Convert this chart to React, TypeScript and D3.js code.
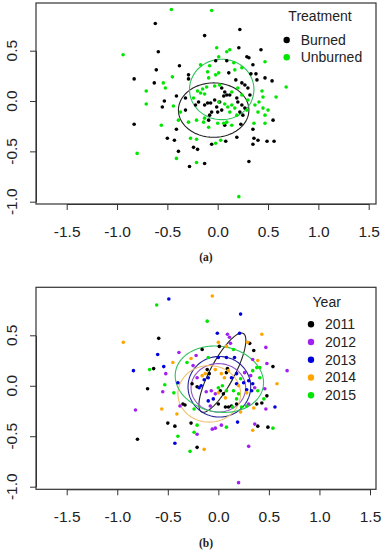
import React, { useEffect, useRef } from "react";
import * as d3 from "d3";

type Pt = [number, number];

// ---- panel (a): scores by treatment ----
const burned: Pt[] = [
  [-0.62, 0.77], [0.22, 0.71], [-0.13, 0.65], [-0.59, 0.49], [0.21, 0.53], [0.43, 0.51], [0.29, 0.44],
  [0.31, 0.43], [-0.61, 0.31], [-0.38, 0.35], [-0.02, 0.4], [0.09, 0.4], [0.35, 0.36],
  [-0.83, 0.22], [-0.63, 0.18], [-0.53, 0.0], [-0.55, -0.06], [-0.83, -0.23], [0.55, -0.19], [0.35, -0.28],
  [-0.29, 0.26], [-0.29, 0.22], [0.11, 0.28], [0.18, 0.21], [0.24, 0.18], [0.27, 0.16], [0.3, 0.13],
  [0.32, 0.06], [0.33, 0.27], [0.38, 0.27], [0.39, 0.21], [0.47, 0.23], [0.54, 0.2],
  [-0.41, 0.05], [-0.32, 0.03], [-0.32, -0.09], [-0.41, -0.28], [-0.22, -0.04], [-0.19, -0.01],
  [-0.13, -0.04], [-0.1, -0.02], [-0.07, -0.02], [-0.03, 0.01], [0.04, 0.13], [0.07, 0.09], [0.09, 0.06],
  [0.06, 0.05], [0.12, 0.06], [0.02, -0.01], [-0.01, -0.06], [0.0, -0.11], [0.04, -0.09], [-0.06, -0.11],
  [-0.08, -0.14], [-0.09, -0.19], [0.19, 0.03], [0.2, -0.01], [0.24, -0.04], [0.27, -0.07], [0.25, -0.14],
  [0.22, -0.11], [0.07, -0.24], [0.23, -0.23],
  [-0.5, -0.37], [-0.43, -0.39], [-0.39, -0.5], [-0.24, -0.46], [-0.2, -0.48], [-0.28, -0.65], [-0.13, -0.62],
  [-0.06, -0.43], [0.08, -0.4], [0.19, -0.36], [0.36, -0.37], [0.4, -0.39], [0.35, -0.43], [0.49, -0.4],
  [0.56, -0.4], [0.31, -0.6],
];

const unburned: Pt[] = [
  [-0.46, 0.91], [-0.06, 0.9], [-0.94, 0.46], [-0.01, 0.53], [0.12, 0.51], [0.09, 0.49], [0.47, 0.39],
  [-0.17, 0.36], [0.01, 0.44], [0.16, 0.38], [0.24, 0.33], [-0.08, 0.35],
  [-0.54, 0.18], [-0.52, 0.13], [-0.71, 0.1], [-0.71, -0.03], [-0.56, -0.24], [-0.45, 0.24],
  [0.68, 0.14], [0.58, 0.04], [0.5, -0.09], [0.47, -0.22],
  [-0.1, 0.29], [-0.09, 0.23], [-0.02, 0.26], [0.01, 0.28], [0.17, 0.31], [0.44, 0.1], [0.45, 0.04],
  [0.41, -0.01], [0.37, -0.04], [0.45, -0.07], [0.4, -0.11], [0.47, -0.14], [0.36, -0.22],
  [-0.44, -0.05], [-0.39, -0.19], [-0.37, -0.11], [-0.24, 0.03], [-0.2, 0.1], [-0.17, 0.08], [-0.15, 0.12],
  [-0.11, 0.14], [-0.13, 0.07], [-0.03, 0.15], [0.02, 0.16], [0.01, -0.01], [0.07, -0.03], [0.1, -0.06],
  [0.14, -0.04], [0.17, -0.07], [0.12, -0.11], [0.19, -0.14], [0.29, -0.09], [0.3, 0.01], [0.2, 0.13],
  [0.14, 0.09], [0.24, 0.06],
  [-0.29, -0.21], [-0.21, -0.19], [-0.14, -0.21], [-0.09, -0.26], [0.0, -0.22], [0.06, -0.22], [0.09, -0.21],
  [0.14, -0.24], [-0.13, -0.17],
  [-0.27, -0.37], [-0.21, -0.38], [-0.8, -0.52], [-0.41, -0.57], [-0.21, -0.61], [-0.02, -0.42],
  [0.03, -0.39], [0.21, -0.95],
];

// ---- panel (b): scores by year ----
const year2011: Pt[] = [
  [-0.59, 0.47], [0.31, 0.42], [-0.16, 0.36], [0.01, 0.39], [0.35, 0.35], [-0.64, 0.17], [-0.7, -0.03],
  [0.54, 0.19], [0.48, -0.1], [-0.11, 0.16], [-0.09, 0.12], [0.08, 0.13], [0.09, 0.17], [-0.26, 0.02],
  [-0.21, -0.01], [0.02, -0.05], [0.05, -0.08], [0.18, -0.18], [0.13, -0.2], [0.0, -0.18], [0.07, -0.21],
  [0.1, -0.21], [0.38, -0.18], [0.43, -0.17], [-0.35, -0.18], [-0.33, -0.19], [-0.5, -0.37], [-0.43, -0.4],
  [-0.27, -0.37], [-0.8, -0.53], [-0.21, -0.61], [0.39, -0.4], [0.49, -0.41],
];
const year2012: Pt[] = [
  [0.09, 0.51], [0.11, 0.48], [0.47, 0.38], [-0.39, 0.33], [0.12, 0.42], [-0.52, 0.12], [-0.22, 0.3],
  [-0.55, -0.06], [0.48, 0.22], [0.68, 0.15], [0.34, 0.26], [-0.25, 0.2], [-0.21, 0.08], [0.26, 0.13],
  [0.32, 0.1], [0.36, -0.02], [0.46, -0.03], [-0.12, -0.06], [-0.07, -0.05], [-0.03, -0.08], [-0.08, -0.2],
  [0.3, -0.18], [0.47, -0.23], [-0.82, -0.24], [-0.38, -0.2], [-0.21, -0.48], [-0.06, -0.43], [-0.03, -0.42],
  [0.03, -0.39], [0.36, -0.38], [0.3, -0.6], [0.2, -0.96],
];
const year2013: Pt[] = [
  [-0.49, 0.86], [0.22, 0.71], [-0.01, 0.52], [0.21, 0.52], [-0.6, 0.31], [-0.54, 0.19], [-0.84, 0.15],
  [-0.4, 0.03], [0.0, 0.28], [0.08, 0.28], [0.16, 0.28], [-0.14, 0.06], [-0.1, 0.08], [0.13, 0.08],
  [0.18, 0.12], [0.3, 0.05], [0.34, 0.02], [0.18, 0.02], [0.25, 0.03], [0.28, -0.04], [0.33, -0.05],
  [-0.19, -0.02], [-0.17, 0.0], [-0.1, -0.15], [-0.05, -0.13], [0.56, -0.21], [-0.43, -0.57], [0.19, -0.36],
];
const year2014: Pt[] = [
  [-0.06, 0.89], [-0.94, 0.43], [0.43, 0.51], [0.29, 0.43], [0.0, 0.43], [0.08, 0.39], [-0.45, 0.23],
  [-0.27, 0.27], [0.39, 0.25], [0.58, 0.02], [-0.16, 0.1], [-0.13, 0.12], [-0.03, 0.16], [0.03, 0.12],
  [0.06, 0.08], [0.1, 0.15], [0.0, -0.07], [0.07, -0.12], [0.2, 0.0], [0.28, -0.07], [0.35, -0.22],
  [0.22, -0.26], [-0.56, -0.23], [-0.41, -0.28], [-0.14, -0.63], [0.34, -0.44],
];
const year2015: Pt[] = [
  [-0.61, 0.8], [-0.11, 0.64], [0.15, 0.36], [-0.68, 0.16], [-0.31, 0.23], [-0.53, 0.01], [-0.44, -0.07],
  [0.38, 0.18], [0.41, 0.18], [0.34, 0.15], [0.45, -0.13], [-0.1, 0.28], [0.22, 0.07], [0.41, 0.08],
  [0.39, -0.05], [0.0, -0.02], [0.04, 0.0], [0.08, -0.05], [0.15, -0.05], [0.2, -0.08], [0.18, -0.13],
  [0.14, -0.21], [0.23, -0.21], [0.28, -0.2], [-0.24, -0.23], [-0.21, -0.39], [-0.4, -0.5], [-0.24, -0.46],
  [-0.28, -0.65], [0.08, -0.41], [0.54, -0.42],
];

const xTicks = [-1.5, -1.0, -0.5, 0.0, 0.5, 1.0, 1.5];
const yTicks = [-1.0, -0.5, 0.0, 0.5];

const treatments = ["Burned", "Unburned"];
const years = ["2011", "2012", "2013", "2014", "2015"];

// ellipses: centre, semi axes, rotation (deg), all in score units
const treatmentEllipses = [
  { cx: -0.04, cy: -0.09, rx: 0.35, ry: 0.27, angle: 0 },
  { cx: 0.04, cy: 0.115, rx: 0.32, ry: 0.3, angle: 0 },
];
const yearEllipses = [
  { cx: 0.04, cy: 0.13, rx: 0.44, ry: 0.12, angle: 62 },
  { cx: 0.0, cy: -0.02, rx: 0.27, ry: 0.24, angle: 0 },
  { cx: 0.01, cy: -0.01, rx: 0.31, ry: 0.3, angle: 0 },
  { cx: -0.09, cy: -0.08, rx: 0.31, ry: 0.28, angle: 0 },
  { cx: 0.01, cy: 0.065, rx: 0.44, ry: 0.325, angle: -10 },
];

const FONT = "'Liberation Sans', Arial, sans-serif";

const drawPanel = (svg, cfg) => {
  const { top, bottom, xRange, yRange, groups, ellipses, legend, caption } = cfg;
  const left = 36,
    right = 376;

  const x = d3.scaleLinear().domain([-1.5, 1.5]).range(xRange);
  const y = d3.scaleLinear().domain([-1, 0.5]).range(yRange);

  const g = svg.append("g");

  // ellipses first, points over them
  const line = d3
    .line()
    .x((d) => x(d[0]))
    .y((d) => y(d[1]))
    .curve(d3.curveLinearClosed);

  ellipses.forEach((e, i) => {
    const th = (e.angle * Math.PI) / 180;
    const pts = d3.range(0, 2 * Math.PI, Math.PI / 60).map((t) => [
      e.cx + e.rx * Math.cos(t) * Math.cos(th) - e.ry * Math.sin(t) * Math.sin(th),
      e.cy + e.rx * Math.cos(t) * Math.sin(th) + e.ry * Math.sin(t) * Math.cos(th),
    ]);
    g.append("path")
      .attr("d", line(pts))
      .attr("fill", "none")
      .attr("stroke", groups[i].ring)
      .attr("stroke-width", 1.1);
  });

  groups.forEach((grp) => {
    g.selectAll(null)
      .data(grp.points)
      .enter()
      .append("circle")
      .attr("cx", (d) => x(d[0]))
      .attr("cy", (d) => y(d[1]))
      .attr("r", 1.8)
      .attr("fill", grp.color);
  });

  // frame
  g.append("rect")
    .attr("x", left)
    .attr("y", top)
    .attr("width", right - left)
    .attr("height", bottom - top)
    .attr("fill", "none")
    .attr("stroke", "#333")
    .attr("stroke-width", 1.2);

  // x axis
  const xAxis = g
    .append("g")
    .attr("transform", `translate(0, ${bottom})`)
    .call(d3.axisBottom(x).tickValues(xTicks).tickSize(6).tickSizeOuter(0).tickFormat(d3.format(".1f")));
  xAxis.select(".domain").attr("stroke", "#333");
  xAxis.selectAll("line").attr("stroke", "#333");
  xAxis
    .selectAll("text")
    .attr("y", 27.7)
    .attr("dy", "0.35em")
    .attr("font-family", FONT)
    .attr("font-size", 15.5)
    .attr("fill", "#222")
    .text((d) => d3.format(".1f")(d).replace("−", "-"));

  // y axis, labels parallel to the axis
  const yAxis = g
    .append("g")
    .attr("transform", `translate(${left}, 0)`)
    .call(d3.axisLeft(y).tickValues(yTicks).tickSize(6).tickSizeOuter(0).tickFormat(() => ""));
  yAxis.select(".domain").attr("stroke", "#333");
  yAxis.selectAll("line").attr("stroke", "#333");

  g.selectAll(null)
    .data(yTicks)
    .enter()
    .append("text")
    .attr("transform", (d) => `translate(12, ${y(d)}) rotate(-90)`)
    .attr("text-anchor", "middle")
    .attr("dy", "0.35em")
    .attr("font-family", FONT)
    .attr("font-size", 15.5)
    .attr("fill", "#222")
    .text((d) => d3.format(".1f")(d).replace("−", "-"));

  // legend
  g.append("text")
    .attr("x", legend.titleX)
    .attr("y", legend.titleY)
    .attr("dy", "0.35em")
    .attr("text-anchor", "middle")
    .attr("font-family", FONT)
    .attr("font-size", 14)
    .attr("fill", "#222")
    .text(legend.title);

  groups.forEach((grp, i) => {
    const ly = legend.firstY + i * legend.step;
    g.append("circle").attr("cx", legend.dotX).attr("cy", ly).attr("r", 3.2).attr("fill", grp.color);
    g.append("text")
      .attr("x", legend.dotX + 14)
      .attr("y", ly)
      .attr("dy", "0.35em")
      .attr("font-family", FONT)
      .attr("font-size", 14)
      .attr("fill", "#222")
      .text(grp.label);
  });

  // caption
  g.append("text")
    .attr("x", 206)
    .attr("y", caption.y)
    .attr("dy", "0.35em")
    .attr("text-anchor", "middle")
    .attr("font-family", "'Liberation Serif', 'Times New Roman', serif")
    .attr("font-weight", "bold")
    .attr("font-size", 11.5)
    .attr("fill", "#222")
    .text(caption.text);
};

const App = () => {
  const svgRef = useRef(null);

  useEffect(() => {
    const svg = d3.select(svgRef.current);
    svg.selectAll("*").remove();

    drawPanel(svg, {
      top: 3,
      bottom: 204,
      xRange: [66.7, 368.7],
      yRange: [201.7, 50.7],
      groups: [
        { label: treatments[0], color: "#000000", ring: "#222222", points: burned },
        { label: treatments[1], color: "#00e600", ring: "#2fc25c", points: unburned },
      ],
      ellipses: treatmentEllipses,
      legend: { title: "Treatment", titleX: 320, titleY: 16, dotX: 286.7, firstY: 40, step: 17.3 },
      caption: { text: "(a)", y: 256.7 },
    });

    drawPanel(svg, {
      top: 287.3,
      bottom: 489.3,
      xRange: [66.7, 370],
      yRange: [486.7, 335.3],
      groups: [
        { label: years[0], color: "#000000", ring: "#222222", points: year2011 },
        { label: years[1], color: "#a020f0", ring: "#9055c8", points: year2012 },
        { label: years[2], color: "#0000dd", ring: "#25259a", points: year2013 },
        { label: years[3], color: "#ffa500", ring: "#eec06a", points: year2014 },
        { label: years[4], color: "#00e600", ring: "#2fc25c", points: year2015 },
      ],
      ellipses: yearEllipses,
      legend: { title: "Year", titleX: 326.7, titleY: 301.7, dotX: 311, firstY: 324.3, step: 17.75 },
      caption: { text: "(b)", y: 542.7 },
    });
  }, []);

  return (
    <svg
      ref={svgRef}
      width={382}
      height={550}
      style={{ position: "absolute", left: 0, top: 0, background: "#fff" }}
    ></svg>
  );
};

export default App;
